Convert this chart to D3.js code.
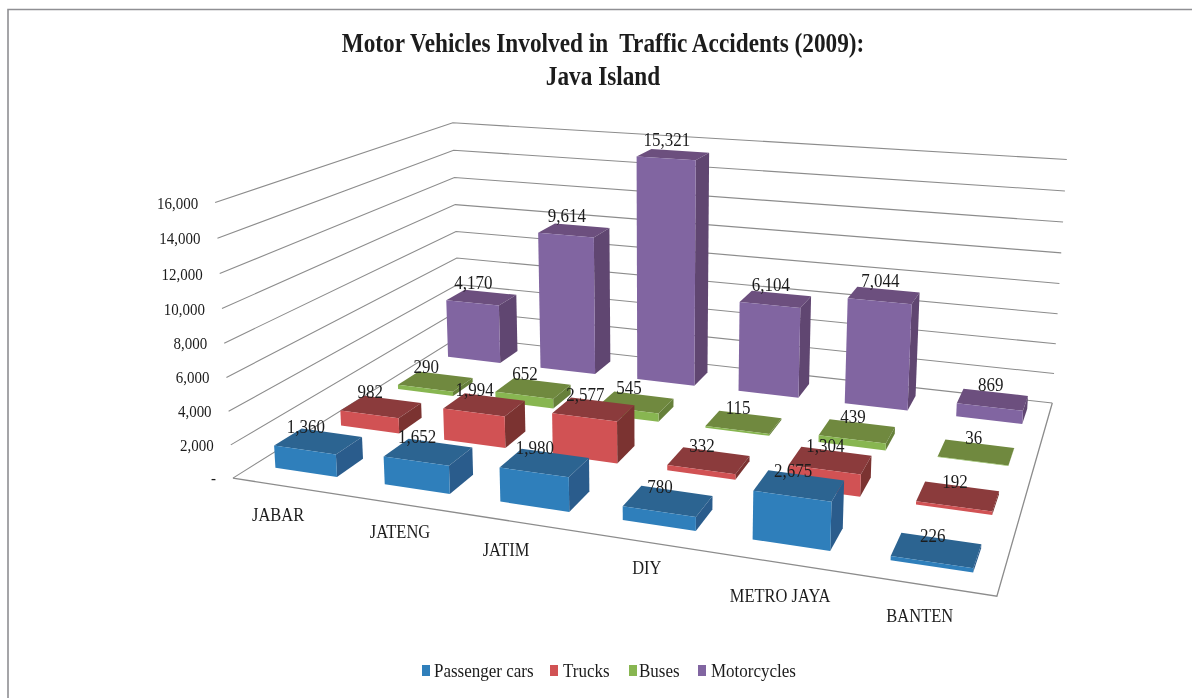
<!DOCTYPE html>
<html><head><meta charset="utf-8">
<script src="https://cdn.jsdelivr.net/npm/d3@7"></script>
<style>html,body{margin:0;padding:0;background:#fff}svg{display:block}text{font-family:"Liberation Serif",serif;fill:#1c1c1c}</style>
</head><body><svg id="c" width="1192" height="698"></svg>
<script>
const categories=["JABAR","JATENG","JATIM","DIY","METRO JAYA","BANTEN"];
const seriesNames=["Passenger cars","Trucks","Buses","Motorcycles"];
const passengerCars=[1360,1652,1980,780,2675,226];
const trucks=[982,1994,2577,332,1304,192];
const buses=[290,652,545,115,439,36];
const motorcycles=[4170,9614,15321,6104,7044,869];
const seriesValues=[passengerCars,trucks,buses,motorcycles];
const valueTicks=[0,2000,4000,6000,8000,10000,12000,14000,16000];
const titleLines=["Motor Vehicles Involved in  Traffic Accidents (2009):","Java Island"];
// face colours: front, top, side
const palette=[["#2f7fbb","#2c6491","#2a5c8c"],["#d15254","#8b3b3c","#7b3331"],["#88b651","#70893f","#66803a"],["#8165a1","#6c4f7e","#604671"]];
const legendColors=["#2f7fbb","#d15254","#88b651","#8165a1"];
// label placement tweaks
const catNudgeX=[22,28,11,21,15,6],catNudgeY=[9,8,6,3,8,5];
const legendSwatchX=[422,550,629,698],legendTextX=[434,563,639,711];

const svg=d3.select("#c").style("filter","blur(0.4px)");
// camera calibration: plot-box corners [u,v,w] -> screen
const anchors=[[0,0,0,232,477],[1,0,0,997,597],[1,1,0,1052,402],[0,1,0,460,338],[0,0,1,216,203],[0,1,1,452,122],[1,1,1,1067,160]];
function solve(A,b){const n=b.length,M=A.map((r,i)=>[...r,b[i]]);
  for(let i=0;i<n;i++){let p=i;for(let k=i+1;k<n;k++)if(Math.abs(M[k][i])>Math.abs(M[p][i]))p=k;[M[i],M[p]]=[M[p],M[i]];
    for(let k=0;k<n;k++)if(k!==i){const f=M[k][i]/M[i][i];for(let j=i;j<=n;j++)M[k][j]-=f*M[i][j];}}
  return M.map((r,i)=>r[n]/r[i]);}
const rows=[],rhs=[];
anchors.forEach(([u,v,w,x,y])=>{rows.push([u,v,w,1,0,0,0,0,-x*u,-x*v,-x*w]);rhs.push(x);rows.push([0,0,0,0,u,v,w,1,-y*u,-y*v,-y*w]);rhs.push(y);});
const AtA=d3.range(11).map(i=>d3.range(11).map(j=>d3.sum(rows,r=>r[i]*r[j])));
const Atb=d3.range(11).map(i=>d3.sum(rows,(r,k)=>r[i]*rhs[k]));
const P=solve(AtA,Atb);
const project=(u,v,w)=>{const d=P[8]*u+P[9]*v+P[10]*w+1;return [(P[0]*u+P[1]*v+P[2]*w+P[3])/d,(P[4]*u+P[5]*v+P[6]*w+P[7])/d];};

const uScale=d3.scaleBand().domain(categories).range([-0.003,1.003]).paddingInner(0.43).paddingOuter(0.215);
const vScale=d3.scaleBand().domain(seriesNames).range([-0.0015,1.0185]).paddingInner(0.6).paddingOuter(0.3);
const wScale=d3.scaleLinear().domain([0,16000]).range([0,1]);
const poly=d3.line();
const fmt=d3.format(",");
const grid="#8c8c8c";
function label(x,y,str,size,anchor,sx,sy,weight){
  const t=svg.append("text").attr("transform",`translate(${x},${y}) scale(${sx},${sy})`).attr("text-anchor",anchor).attr("font-size",size).text(str).style("white-space","pre");
  if(weight)t.attr("font-weight",weight);
  return t;
}
// frame
svg.append("path").attr("d",poly([[8,698],[8,9.5],[1192,9.5]])).attr("fill","none").attr("stroke","#8f8f93").attr("stroke-width",1.6);
// gridlines on walls
valueTicks.forEach(t=>{const w=wScale(t);
  svg.append("path").attr("d",poly([project(0,0,w),project(0,1,w),project(1,1,w)])).attr("fill","none").attr("stroke",grid).attr("stroke-width",1.1);});
// floor
svg.append("path").attr("d",poly([project(0,0,0),project(1,0,0),project(1,1,0)])).attr("fill","none").attr("stroke",grid).attr("stroke-width",1.3);
// bars, back to front
const uw=uScale.bandwidth(),vw=vScale.bandwidth();
d3.range(seriesNames.length-1,-1,-1).forEach(s=>{
  categories.forEach((c,i)=>{
    const v0=vScale(seriesNames[s]),v1=v0+vw,u0=uScale(c),u1=u0+uw,h=wScale(seriesValues[s][i]),col=palette[s];
    const g=svg.append("g");
    g.append("path").attr("d",poly([project(u0,v0,h),project(u1,v0,h),project(u1,v1,h),project(u0,v1,h)])+"Z").attr("fill",col[1]);
    g.append("path").attr("d",poly([project(u1,v0,0),project(u1,v1,0),project(u1,v1,h),project(u1,v0,h)])+"Z").attr("fill",col[2]);
    g.append("path").attr("d",poly([project(u0,v0,0),project(u1,v0,0),project(u1,v0,h),project(u0,v0,h)])+"Z").attr("fill",col[0]);
  });
});
// data labels
seriesValues.forEach((vals,s)=>vals.forEach((val,i)=>{
  const uc=uScale(categories[i])+uw/2,v0=vScale(seriesNames[s]),h=wScale(val);
  const x=project(uc,v0,h)[0],y=project(uc,v0+vw/2,h)[1];
  label(x+1,y-8.5,fmt(val),17,"middle",1,1.12);
}));
// value axis labels
valueTicks.forEach(t=>{const [x,y]=project(0,0,wScale(t));
  label(x-17,y+6,t===0?"-":fmt(t),15,"end",1,1.12);});
// category labels
categories.forEach((c,i)=>{const [x,y]=project(uScale(c)+uw/2,-0.1,0);
  label(x+catNudgeX[i],y+6+catNudgeY[i],c,16.5,"middle",1,1.12);});
// title
titleLines.forEach((t,i)=>label(603,52+i*33,t,27,"middle",0.862,1.04,"bold"));
// legend
seriesNames.forEach((n,i)=>{
  svg.append("rect").attr("x",legendSwatchX[i]).attr("y",665).attr("width",8).attr("height",11).attr("fill",legendColors[i]);
  label(legendTextX[i],677,n,17,"start",1,1.1);
});
</script></body></html>
